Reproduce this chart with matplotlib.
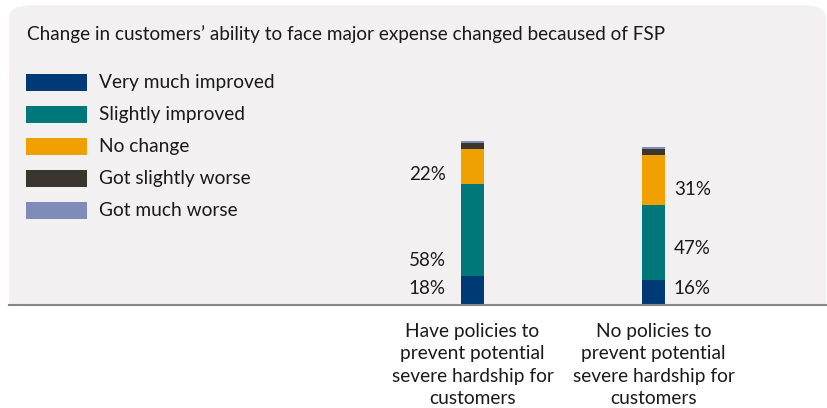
import matplotlib
matplotlib.use('Agg')
import matplotlib.pyplot as plt
from matplotlib.patches import FancyBboxPatch, Rectangle

# data
categories = ['Have policies to\nprevent potential\nsevere hardship for\ncustomers',
              'No policies to\nprevent potential\nsevere hardship for\ncustomers']
series = ['Very much improved', 'Slightly improved', 'No change',
          'Got slightly worse', 'Got much worse']
very_much_improved = [18, 16]
slightly_improved = [58, 47]
no_change = [22, 31]
got_slightly_worse = [4, 4]
got_much_worse = [1, 1]
title = 'Change in customers\u2019 ability to face major expense changed becaused of FSP'

colors = ['#003a75', '#00787a', '#f0a000', '#3b3530', '#7f8cb8']
values = [very_much_improved, slightly_improved, no_change,
          got_slightly_worse, got_much_worse]

# which segments carry a label, and where (data units) the label sits
label_series = [0, 1, 2]
label_y = [[10.4, 28.2, 82.2],     # left bar, labels on the left
           [10.4, 35.5, 72.2]]     # right bar, labels on the right

plt.rcParams['font.family'] = ['Lato', 'DejaVu Sans']
TXT = '#1a1a1a'
W, H = 828, 408

fig = plt.figure(figsize=(W / 100, H / 100), dpi=100)
fig.patch.set_facecolor('white')

# light grey panel with rounded top corners
panel = FancyBboxPatch((9 / W, 1 - 330 / H), 817 / W, 325 / H,
                       boxstyle='round,pad=0,rounding_size=0.03',
                       transform=fig.transFigure, facecolor='#f2f0f1',
                       edgecolor='none', zorder=0)
fig.patches.append(panel)
fig.patches.append(Rectangle((0, 0), 1, 1 - 305 / H, transform=fig.transFigure,
                             facecolor='white', edgecolor='none', zorder=0.5))

ax = fig.add_axes([9 / W, 1 - 305 / H, 819 / W, 300 / H])
ax.set_zorder(2)
ax.set_facecolor('none')
ax.set_xlim(-2.561, 1.964)
ax.set_ylim(0, 300 / 1.593)

x = [0, 1]
width = 0.125
bottom = [0, 0]
for vals, col in zip(values, colors):
    ax.bar(x, vals, width=width, bottom=bottom, color=col, edgecolor='none', zorder=2)
    bottom = [b + v for b, v in zip(bottom, vals)]

for i in x:
    for k, s in enumerate(label_series):
        txt = f'{values[s][i]}%'
        if i == 0:
            ax.annotate(txt, (i - width / 2, label_y[i][k]), xytext=(-11, 0),
                        textcoords='offset points', ha='right', va='center',
                        fontsize=13.5, color=TXT)
        else:
            ax.annotate(txt, (i + width / 2, label_y[i][k]), xytext=(6.5, 0),
                        textcoords='offset points', ha='left', va='center',
                        fontsize=13.5, color=TXT)

for side in ['top', 'right', 'left']:
    ax.spines[side].set_visible(False)
ax.spines['bottom'].set_color('#8c8485')
ax.spines['bottom'].set_linewidth(1.5)
ax.set_yticks([])
ax.set_xticks(x)
ax.set_xticklabels(categories, fontsize=13.8, color=TXT, linespacing=1.38)
ax.tick_params(axis='x', length=0, pad=13)

fig.text(27 / W, 1 - 34 / H, title, fontsize=13.6, color=TXT, va='center', ha='left')

# legend drawn as swatches + labels
for k, (name, col) in enumerate(zip(series, colors)):
    yc = 82.5 + 32 * k
    fig.patches.append(Rectangle((26 / W, 1 - (yc + 8.5) / H), 61 / W, 17 / H,
                                 transform=fig.transFigure, facecolor=col,
                                 edgecolor='none', zorder=3))
    fig.text(99 / W, 1 - yc / H, name, fontsize=13.8, color=TXT, va='center', ha='left')

fig.savefig('out.png', dpi=100)
